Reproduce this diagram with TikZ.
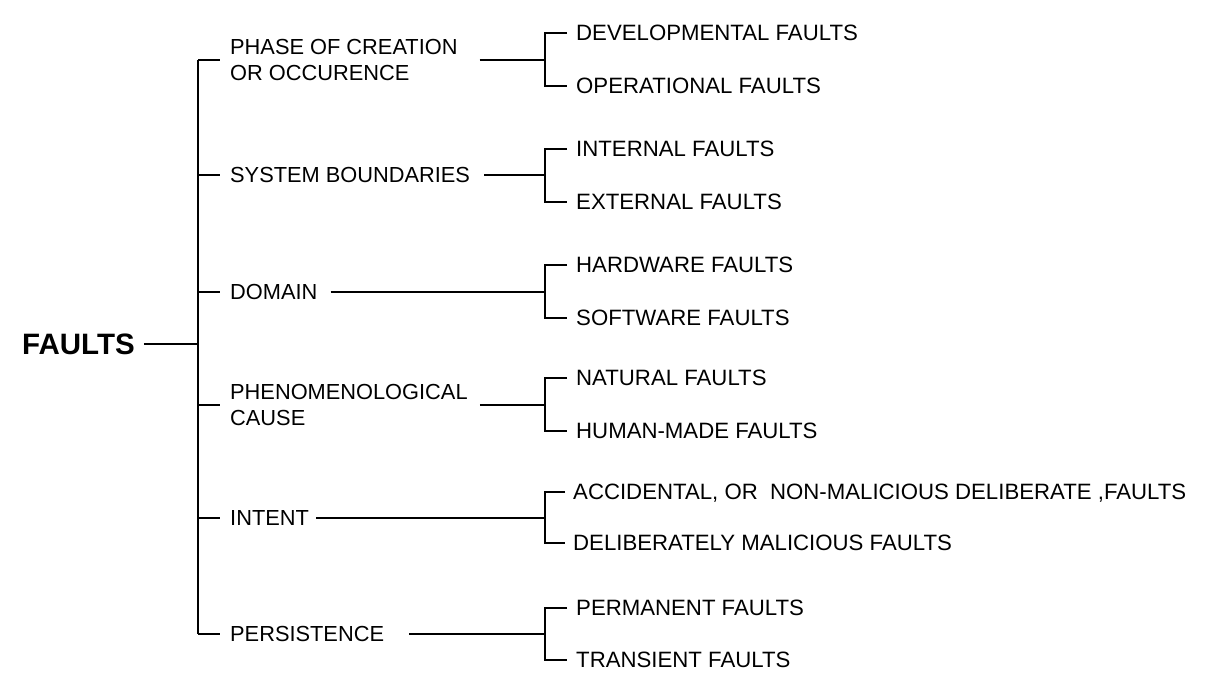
\documentclass[tikz,border=0pt]{standalone}
\usepackage{fontspec}
\setmainfont{Liberation Sans}
\usepackage{tikz}

\tikzset{
    root/.style={anchor=west, inner sep=0pt, font=\fontsize{29.5}{34}\selectfont\bfseries},
    cat/.style={anchor=west, inner sep=0pt, align=left, font=\fontsize{21.8}{25.5}\selectfont},
    sub/.style={anchor=west, inner sep=0pt, text depth=0pt, font=\fontsize{22.2}{25.5}\selectfont},
    tree/.style={line width=1.2pt, black}
}

\begin{document}
\begin{tikzpicture}[x=1pt, y=-1pt]
    \useasboundingbox (0,0) rectangle (1210,679);
    % Draw the root and the trunk
    \node[root] (faults) at (22,344) {FAULTS};
    \coordinate (trunktop) at (198,60);
    \coordinate (trunkbot) at (198,634);
    \draw[tree] ([xshift=9pt]faults.east) -- (faults.east -| trunktop);
    \draw[tree] (trunktop) -- (trunkbot);
    % Draw the classes
    \node[cat] (phase) at (230,60) {PHASE OF CREATION\\OR OCCURENCE};
    \node[cat] (boundary) at (230,175) {SYSTEM BOUNDARIES};
    \node[cat] (domain) at (230,292) {DOMAIN};
    \node[cat] (cause) at (230,405) {PHENOMENOLOGICAL\\CAUSE};
    \node[cat] (intent) at (230,518) {INTENT};
    \node[cat] (persist) at (230,634) {PERSISTENCE};
    \draw[tree] (phase.west -| trunktop) -- ([xshift=-10pt]phase.west);
    \draw[tree] (boundary.west -| trunktop) -- ([xshift=-10pt]boundary.west);
    \draw[tree] (domain.west -| trunktop) -- ([xshift=-10pt]domain.west);
    \draw[tree] (cause.west -| trunktop) -- ([xshift=-10pt]cause.west);
    \draw[tree] (intent.west -| trunktop) -- ([xshift=-10pt]intent.west);
    \draw[tree] (persist.west -| trunktop) -- ([xshift=-10pt]persist.west);
    % Draw the fork points
    \coordinate (phasefork) at (545,60);
    \coordinate (boundaryfork) at (545,175);
    \coordinate (domainfork) at (545,292);
    \coordinate (causefork) at (545,405);
    \coordinate (intentfork) at (545,518);
    \coordinate (persistfork) at (545,634);
    \draw[tree] ([xshift=22pt]phase.east) -- (phasefork);
    \draw[tree] ([xshift=14pt]boundary.east) -- (boundaryfork);
    \draw[tree] ([xshift=13pt]domain.east) -- (domainfork);
    \draw[tree] ([xshift=12pt]cause.east) -- (causefork);
    \draw[tree] ([xshift=7pt]intent.east) -- (intentfork);
    \draw[tree] ([xshift=25pt]persist.east) -- (persistfork);
    % Draw the kinds of faults
    \node[sub] (devel) at (576,33) {DEVELOPMENTAL FAULTS};
    \node[sub] (oper) at (576,86) {OPERATIONAL FAULTS};
    \node[sub] (internal) at (576,149) {INTERNAL FAULTS};
    \node[sub] (external) at (576,202) {EXTERNAL FAULTS};
    \node[sub] (hardware) at (576,265) {HARDWARE FAULTS};
    \node[sub] (software) at (576,318) {SOFTWARE FAULTS};
    \node[sub] (natural) at (576,378) {NATURAL FAULTS};
    \node[sub] (human) at (576,431) {HUMAN-MADE FAULTS};
    \node[sub] (accident) at (573,492) {ACCIDENTAL, OR\ \ NON-MALICIOUS DELIBERATE ,FAULTS};
    \node[sub] (malice) at (573,543) {DELIBERATELY MALICIOUS FAULTS};
    \node[sub] (perm) at (576,608) {PERMANENT FAULTS};
    \node[sub] (trans) at (576,660) {TRANSIENT FAULTS};
    % Draw the brackets
    \draw[tree] ([xshift=-9pt]devel.west) -| (phasefork) |- ([xshift=-9pt]oper.west);
    \draw[tree] ([xshift=-9pt]internal.west) -| (boundaryfork) |- ([xshift=-9pt]external.west);
    \draw[tree] ([xshift=-9pt]hardware.west) -| (domainfork) |- ([xshift=-9pt]software.west);
    \draw[tree] ([xshift=-9pt]natural.west) -| (causefork) |- ([xshift=-9pt]human.west);
    \draw[tree] ([xshift=-8pt]accident.west) -| (intentfork) |- ([xshift=-8pt]malice.west);
    \draw[tree] ([xshift=-9pt]perm.west) -| (persistfork) |- ([xshift=-9pt]trans.west);
\end{tikzpicture}
\end{document}
